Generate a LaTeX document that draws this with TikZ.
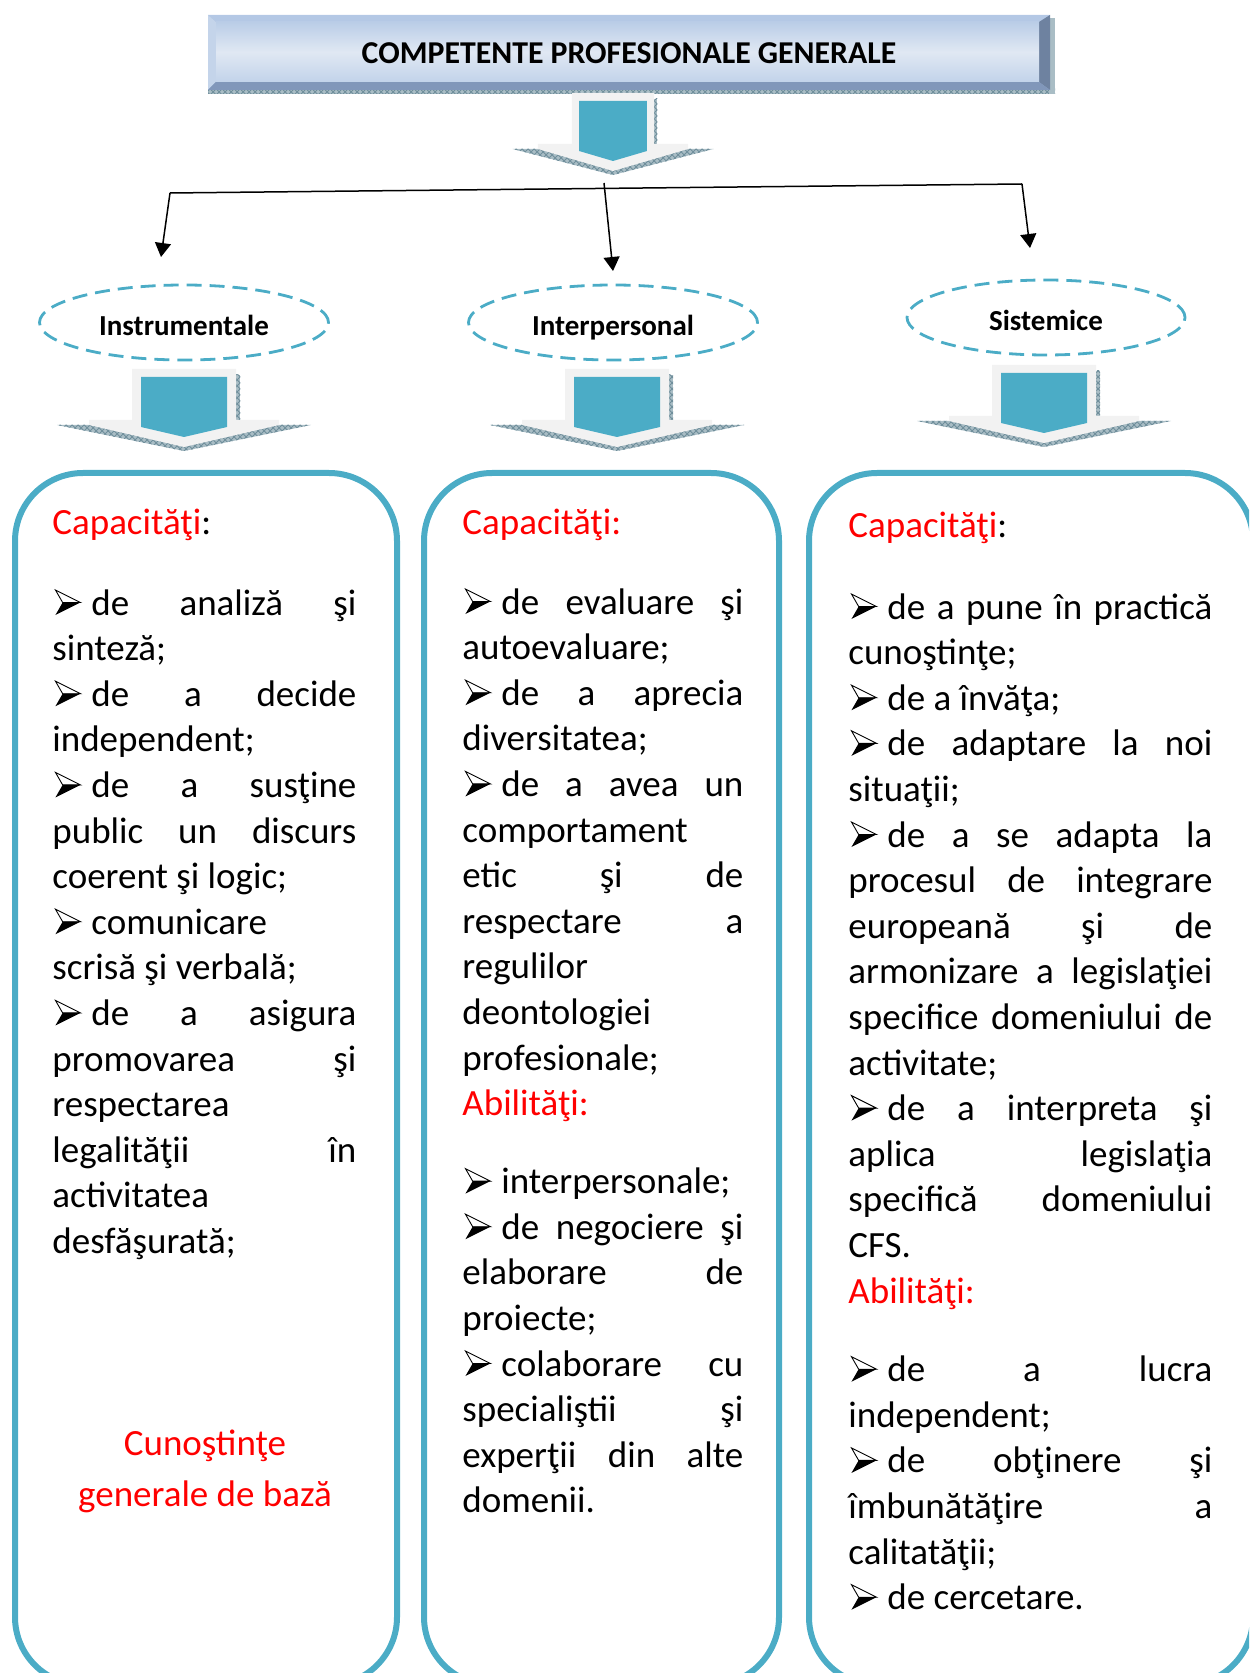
\documentclass[tikz,border=0pt]{standalone}
\usepackage{fontspec}
\setmainfont{Carlito}
\usetikzlibrary{arrows.meta,shapes.geometric,patterns}
\definecolor{teal5}{HTML}{4BACC6}
\definecolor{arrgray}{HTML}{F2F2F2}
\definecolor{hatchc}{HTML}{A9BDC5}
\definecolor{hatchd}{HTML}{6F8E9B}
\definecolor{frameA}{HTML}{9DB5D8}
\definecolor{frameT}{HTML}{B4C8E5}
\definecolor{frameL}{HTML}{C4D4EA}
\definecolor{frameR}{HTML}{6E82A0}
\definecolor{frameB}{HTML}{8197BA}
\definecolor{panT}{HTML}{BACDE7}
\definecolor{panM}{HTML}{E0E8F3}
\definecolor{panB}{HTML}{C2D3EA}
\definecolor{myred}{HTML}{FF0000}
\newlength\cw
\newcommand\myjl[1]{\makebox[\cw][s]{#1}}
\newcommand\mybul{\makebox[19.5pt][l]{\hspace{1.3pt}\tikz[x=1pt,y=1pt,baseline=0pt,line width=0.45pt,line join=miter]{%
  \fill[white,draw=black] (0,12.5) -- (12.5,6.25) -- (3.6,6.25) -- cycle;
  \fill[black] (0,0) -- (12.5,6.25) -- (3.6,6.25) -- cycle;}}}
\newcommand\rd[1]{\textcolor{myred}{#1}}
\tikzset{
  txt/.style={anchor=base west, inner sep=0pt, font=\fontsize{18.5}{22.8}\selectfont},
  lab/.style={ellipse, draw=teal5, line width=1.4pt, dash pattern=on 7.5pt off 4pt,
    minimum height=37.5pt, inner sep=0pt, font=\bfseries\fontsize{14.5}{17}\selectfont,
    text height=15pt, text depth=1.7pt},
  colbox/.style={draw=teal5, line width=3pt, rounded corners=34pt, minimum height=606pt, inner sep=0pt},
  conn/.style={line width=0.75pt},
  arr/.style={conn, -{Triangle[length=7pt,width=8pt]}},
  tdarrow/.pic={
    \fill[hatchc] (-127,56) -- (127,56) -- (0,82) -- cycle;
    \fill[pattern=crosshatch, pattern color=hatchd] (-127,56) -- (127,56) -- (0,82) -- cycle;
    \fill[hatchc] (52,6) rectangle (56,51);
    \fill[pattern=crosshatch, pattern color=hatchd] (52,6) rectangle (56,51);
    \fill[arrgray] (-52,0) -- (52,0) -- (52,51) -- (95,51) -- (95,56) -- (0,78) -- (-95,56) -- (-95,51) -- (-52,51) -- cycle;
    \fill[teal5] (-43,8) -- (43,8) -- (43,58) -- (0,68) -- (-43,58) -- cycle;
  }
}
\begin{document}
\begin{tikzpicture}[x=0.5pt,y=-0.5pt]
\useasboundingbox (0,0) rectangle (1249,1673);
\clip (0,0) rectangle (1249,1673);

% title frame
\fill[hatchc] (208,89) rectangle (1055,94);
\fill[pattern=crosshatch, pattern color=hatchd] (208,89) rectangle (1055,94);
\fill[hatchc] (1049,18) rectangle (1055,94);
\fill[frameA] (208,15) rectangle (1050,90);
\fill[frameT] (208,15) -- (1050,15) -- (1039,22) -- (216,22) -- cycle;
\fill[frameL] (208,15) -- (216,22) -- (216,82) -- (208,90) -- cycle;
\fill[frameR] (1050,15) -- (1039,22) -- (1039,82) -- (1050,90) -- cycle;
\fill[frameB] (208,90) -- (216,82) -- (1039,82) -- (1050,90) -- cycle;
\shade[top color=panT, bottom color=panB, middle color=panM] (216,22) rectangle (1039,82);
\node[inner sep=0pt, minimum width=421pt, minimum height=37.5pt, font=\bfseries\fontsize{15.9}{19}\selectfont] (title) at (629,53.5) {COMPETENTE PROFESIONALE GENERALE};

% big arrow
\pic[xscale=0.79] at (613,93) {tdarrow};

% connectors
\coordinate (hL) at (170,193);
\coordinate (hR) at (1022,184);
\coordinate (hM) at (604,183);
\coordinate (tL) at (161,257);
\coordinate (tM) at (613,271);
\coordinate (tR) at (1030,248);
\draw[conn] (hL) -- (hR);
\draw[arr] (hL) -- (tL);
\draw[arr] (hM) -- (tM);
\draw[arr] (hR) -- (tR);

% ellipses
\node[lab, minimum width=144.5pt] (e1) at (184,322.5) {Instrumentale};
\node[lab, minimum width=144.5pt] (e2) at (613,322.5) {Interpersonal};
\node[lab, minimum width=139pt] (e3) at (1046,317.5) {Sistemice};

% small arrows
\pic at (184,369) {tdarrow};
\pic at (617,369) {tdarrow};
\pic at (1044,365) {tdarrow};

% column boxes
\node[colbox, minimum width=191pt] (boxL) at (206,1079) {};
\node[colbox, minimum width=177.5pt] (boxM) at (601.5,1079) {};
\node[colbox, minimum width=222pt] (boxR) at (1031,1079) {};

% left column
\node[txt] (capL) at (52,535) {\rd{Capacităţi}:};
\setlength\cw{152pt}
\foreach \tx [count=\idx from 0] in {
  {\myjl{\mybul de analiză şi}}, {sinteză;},
  {\myjl{\mybul de a decide}}, {independent;},
  {\myjl{\mybul de a susţine}}, {\myjl{public un discurs}}, {coerent şi logic;},
  {\mybul comunicare}, {scrisă şi verbală;},
  {\myjl{\mybul de a asigura}}, {\myjl{promovarea şi}}, {respectarea},
  {\myjl{legalităţii în}}, {activitatea}, {desfăşurată;}}
  \node[txt] (L\idx) at (52,{615+45.6*\idx}) {\tx};
\node[txt, anchor=base] (cunL) at (205,1455) {\rd{Cunoştinţe}};
\node[txt, anchor=base] (genL) at (205,1506) {\rd{generale de bază}};

% middle column
\node[txt] (capM) at (462,535) {\rd{Capacităţi:}};
\setlength\cw{140.5pt}
\foreach \tx [count=\idx from 0] in {
  {\myjl{\mybul de evaluare şi}}, {autoevaluare;},
  {\myjl{\mybul de a aprecia}}, {diversitatea;},
  {\myjl{\mybul de a avea un}}, {comportament}, {\myjl{etic şi de}},
  {\myjl{respectare a}}, {regulilor}, {deontologiei}, {profesionale;},
  {\rd{Abilităţi:}}}
  \node[txt] (M\idx) at (462,{614+45.6*\idx}) {\tx};
\foreach \tx [count=\idx from 0] in {
  {\mybul interpersonale;},
  {\myjl{\mybul de negociere şi}}, {\myjl{elaborare de}}, {proiecte;},
  {\myjl{\mybul colaborare cu}}, {\myjl{specialiştii şi}}, {\myjl{experţii din alte}}, {domenii.}}
  \node[txt] (N\idx) at (462,{1193.6+45.6*\idx}) {\tx};

% right column
\node[txt] (capR) at (848,538) {\rd{Capacităţi}:};
\setlength\cw{182pt}
\foreach \tx [count=\idx from 0] in {
  {\myjl{\mybul de a pune în practică}}, {cunoştinţe;},
  {\mybul de a învăţa;},
  {\myjl{\mybul de adaptare la noi}}, {situaţii;},
  {\myjl{\mybul de a se adapta la}}, {\myjl{procesul de integrare}},
  {\myjl{europeană şi de}}, {\myjl{armonizare a legislaţiei}},
  {\myjl{specifice domeniului de}}, {activitate;},
  {\myjl{\mybul de a interpreta şi}}, {\myjl{aplica legislaţia}},
  {\myjl{specifică domeniului}}, {CFS.},
  {\rd{Abilităţi:}}}
  \node[txt] (R\idx) at (848,{619+45.6*\idx}) {\tx};
\foreach \tx [count=\idx from 0] in {
  {\myjl{\mybul de a lucra}}, {independent;},
  {\myjl{\mybul de obţinere şi}}, {\myjl{îmbunătăţire a}}, {calitatăţii;},
  {\mybul de cercetare.}}
  \node[txt] (S\idx) at (848,{1381.7+45.6*\idx}) {\tx};
\end{tikzpicture}
\end{document}
